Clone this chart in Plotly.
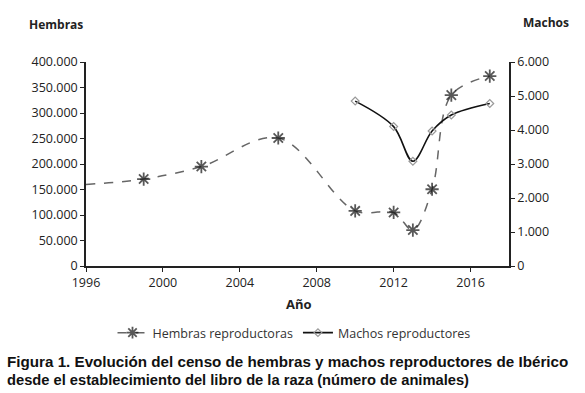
import plotly.graph_objects as go

# Data
years_h = [1996, 1999, 2002, 2006, 2010, 2012, 2013, 2014, 2015, 2017]
hembras = [160000, 170500, 195000, 251000, 108000, 105000, 70500, 150500, 335000, 372500]
years_m = [2010, 2012, 2013, 2014, 2015, 2017]
machos = [4850, 4100, 3080, 3970, 4440, 4780]

x_ticks = [1996, 2000, 2004, 2008, 2012, 2016]
left_ticks = [0, 50000, 100000, 150000, 200000, 250000, 300000, 350000, 400000]
left_labels = ["0", "50.000", "100.000", "150.000", "200.000", "250.000", "300.000", "350.000", "400.000"]
right_ticks = [0, 1000, 2000, 3000, 4000, 5000, 6000]
right_labels = ["0", "1.000", "2.000", "3.000", "4.000", "5.000", "6.000"]

FONT = "Open Sans"
W, H = 585, 393
ML, MR, MT, MB = 86, 76, 62, 127
pw, ph = W - ML - MR, H - MT - MB


def px(xp, yp):
    return (xp - ML) / pw, (H - MB - yp) / ph


fig = go.Figure()
fig.add_trace(go.Scatter(
    x=years_h, y=hembras, name="Hembras reproductoras", mode="lines+markers",
    line=dict(color="#666666", width=1.5, dash="dash", shape="spline", smoothing=1),
    marker=dict(symbol="asterisk-open", size=[0] + [11] * (len(years_h) - 1),
                color="#111111", line=dict(color="#111111", width=1.8)),
    yaxis="y", cliponaxis=False,
))
fig.add_trace(go.Scatter(
    x=years_m, y=machos, name="Machos reproductores", mode="lines+markers",
    line=dict(color="#111111", width=1.6, shape="spline", smoothing=1),
    marker=dict(symbol="diamond-open", size=6, color="#999999",
                line=dict(color="#999999", width=1.2)),
    yaxis="y2",
))

axis_common = dict(showgrid=False, zeroline=False, showline=True, linecolor="#222222",
                   linewidth=1.5, ticks="outside", ticklen=4, tickcolor="#222222",
                   tickfont=dict(family=FONT, size=12.5, color="#222222"))


def ann(text, xp, yp, size, family=FONT, xanchor="center", color="#222222"):
    x0, y0 = px(xp, yp)
    return dict(text=text, x=x0, y=y0, xref="paper", yref="paper", showarrow=False,
                xanchor=xanchor, yanchor="middle",
                font=dict(family=family, size=size, color=color))


anns = [
    ann("<b>Hembras</b>", 56, 25, 12),
    ann("<b>Machos</b>", 546, 22, 12),
    ann("<b>Año</b>", 299, 304, 13),
    ann("<b>Figura 1. Evolución del censo de hembras y machos reproductores de Ibérico</b>",
        5, 361, 15.2, family="Liberation Sans", xanchor="left", color="#111111"),
    ann("<b>desde el establecimiento del libro de la raza (número de animales)</b>",
        5, 380, 14.7, family="Liberation Sans", xanchor="left", color="#111111"),
]

lx, ly = px(294, 333)

fig.update_layout(
    width=W, height=H,
    margin=dict(l=ML, r=MR, t=MT, b=MB),
    paper_bgcolor="white", plot_bgcolor="white",
    showlegend=True,
    legend=dict(orientation="h", x=lx, xanchor="center", y=ly, yanchor="middle",
                font=dict(family=FONT, size=12.5, color="#333333"), itemwidth=30,
                bgcolor="rgba(0,0,0,0)"),
    xaxis=dict(range=[1996, 2018], tickvals=x_ticks, ticktext=[str(t) for t in x_ticks],
               **axis_common),
    yaxis=dict(range=[0, 400000], tickvals=left_ticks, ticktext=left_labels, **axis_common),
    yaxis2=dict(range=[0, 6000], tickvals=right_ticks, ticktext=right_labels,
                overlaying="y", side="right", **axis_common),
    annotations=anns,
)

fig.write_html("out.html", config={"displayModeBar": False},
               post_script="document.body.style.margin='0';")
